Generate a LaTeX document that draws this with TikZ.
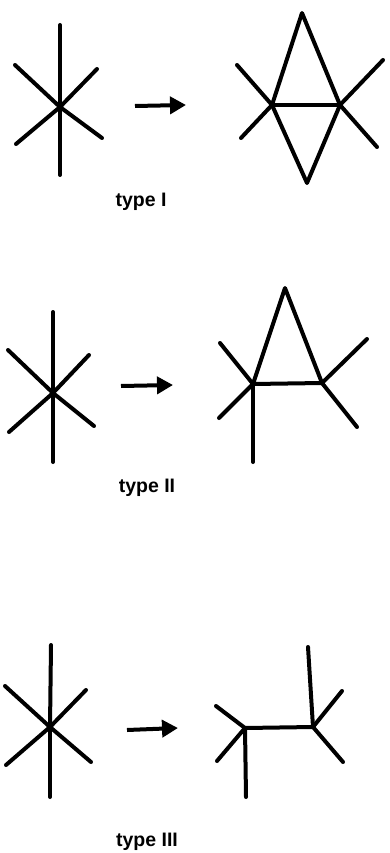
\documentclass[tikz,border=0pt]{standalone}
\usepackage{fontspec}
\setmainfont{Liberation Sans}
\usetikzlibrary{arrows.meta}

\tikzset{
  bond/.style={line width=4pt, line cap=round},
  move/.style={line width=4pt, -{Triangle[length=16pt,width=17pt]}},
  caption/.style={font=\bfseries\fontsize{19.5}{19.5}\selectfont, inner sep=0pt}
}

\begin{document}
\begin{tikzpicture}[x=1pt, y=-1pt]
  \useasboundingbox (0,0) rectangle (389,853);

  % Type I: star before the move
  \coordinate (c1) at (60,107);
  \coordinate (c1n) at (60,25);
  \coordinate (c1s) at (60,175);
  \coordinate (c1nw) at (15,65);
  \coordinate (c1ne) at (97,69);
  \coordinate (c1sw) at (16,144);
  \coordinate (c1se) at (102,138);
  \foreach \e in {c1n,c1s,c1nw,c1ne,c1sw,c1se}
    \draw[bond] (c1) -- (\e);

  % Type I: arrow
  \coordinate (a1) at (135,106);
  \coordinate (b1) at (186,105);
  \draw[move] (a1) -- (b1);

  % Type I: result with two triangles
  \coordinate (p1) at (272,105);
  \coordinate (q1) at (340,105);
  \coordinate (t1) at (302,13);
  \coordinate (u1) at (307,183);
  \draw[bond] (p1) -- (q1);
  \draw[bond, line join=round] (p1) -- (t1) -- (q1) -- (u1) -- cycle;
  \draw[bond] (p1) -- (237,65);
  \draw[bond] (p1) -- (241,138);
  \draw[bond] (q1) -- (383,60);
  \draw[bond] (q1) -- (377,147);
  \node[caption] (type1) at (141,202) {type I};

  % Type II: star before the move
  \coordinate (c2) at (53,393);
  \coordinate (c2n) at (53,312);
  \coordinate (c2s) at (53,462);
  \coordinate (c2nw) at (8,350);
  \coordinate (c2ne) at (89,355);
  \coordinate (c2sw) at (9,432);
  \coordinate (c2se) at (94,426);
  \foreach \e in {c2n,c2s,c2nw,c2ne,c2sw,c2se}
    \draw[bond] (c2) -- (\e);

  % Type II: arrow
  \coordinate (a2) at (121,386);
  \coordinate (b2) at (173,385);
  \draw[move] (a2) -- (b2);

  % Type II: result with one triangle
  \coordinate (p2) at (253,384);
  \coordinate (q2) at (322,383);
  \coordinate (t2) at (285,288);
  \draw[bond, line join=round] (p2) -- (t2) -- (q2) -- cycle;
  \draw[bond] (p2) -- (220,343);
  \draw[bond] (p2) -- (219,418);
  \draw[bond] (p2) -- (253,462);
  \draw[bond] (q2) -- (367,339);
  \draw[bond] (q2) -- (357,427);
  \node[caption] (type2) at (147,488) {type II};

  % Type III: star before the move
  \coordinate (c3) at (50,727);
  \coordinate (c3n) at (51,645);
  \coordinate (c3s) at (50,797);
  \coordinate (c3nw) at (5,686);
  \coordinate (c3ne) at (86,690);
  \coordinate (c3sw) at (6,765);
  \coordinate (c3se) at (91,762);
  \foreach \e in {c3n,c3s,c3nw,c3ne,c3sw,c3se}
    \draw[bond] (c3) -- (\e);

  % Type III: arrow
  \coordinate (a3) at (127,730);
  \coordinate (b3) at (178,728);
  \draw[move] (a3) -- (b3);

  % Type III: result, two vertices joined
  \coordinate (p3) at (245,728);
  \coordinate (q3) at (313,727);
  \draw[bond] (p3) -- (q3);
  \draw[bond] (p3) -- (216,706);
  \draw[bond] (p3) -- (217,761);
  \draw[bond] (p3) -- (246,797);
  \draw[bond] (q3) -- (308,647);
  \draw[bond] (q3) -- (342,691);
  \draw[bond] (q3) -- (343,762);
  \node[caption] (type3) at (147,842) {type III};
\end{tikzpicture}
\end{document}
